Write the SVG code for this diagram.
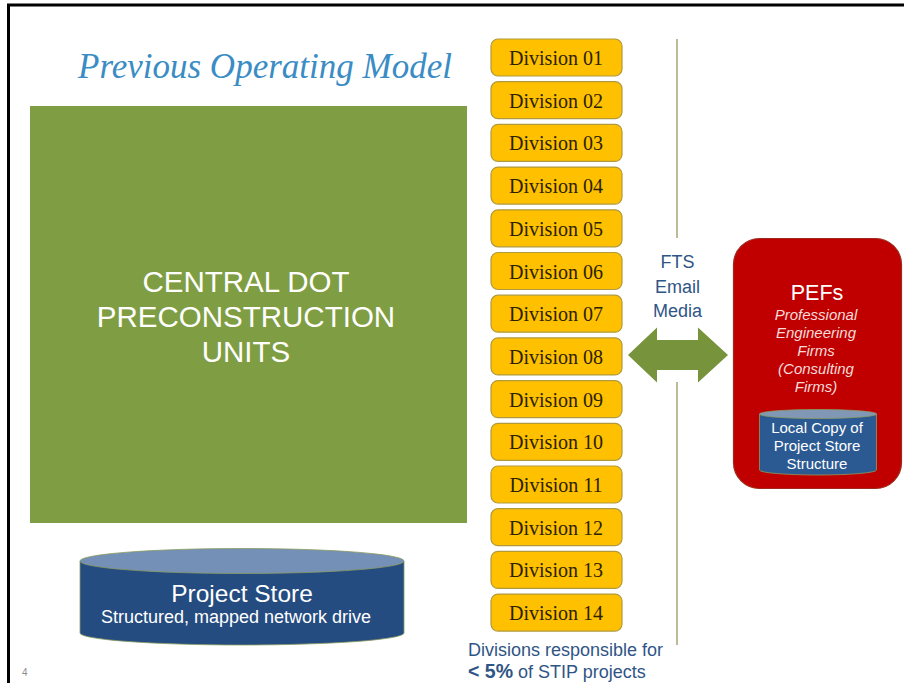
<svg xmlns="http://www.w3.org/2000/svg" width="904" height="683" viewBox="0 0 904 683">
<style>
.div rect{fill:#FFC000;stroke:#B09A3A;stroke-width:1.2}
.div text{font-family:"Liberation Serif","Times New Roman",serif;font-size:20px;fill:#2A2200;text-anchor:middle}
.sans{font-family:"Liberation Sans",Arial,sans-serif}
.blue{fill:#2F5586}
</style>
<rect x="0" y="0" width="904" height="683" fill="#FFFFFF"/>
<path d="M8.5,683 V5 H904" fill="none" stroke="#000" stroke-width="3"/>
<text x="78" y="78" font-family="Liberation Serif,'Times New Roman',serif" font-style="italic" font-size="35" fill="#3A8CC4">Previous Operating Model</text>

<g id="central">
<rect x="30" y="106" width="437" height="417" fill="#7F9D42"/>
<text class="sans" x="246" y="292" font-size="29.5" fill="#FFFFFF" text-anchor="middle">CENTRAL DOT</text>
<text class="sans" x="246" y="327" font-size="29.5" fill="#FFFFFF" text-anchor="middle">PRECONSTRUCTION</text>
<text class="sans" x="246" y="362" font-size="29.5" fill="#FFFFFF" text-anchor="middle">UNITS</text>
</g>

<g id="project-store">
<path d="M80,561 V633 A162,12 0 0 0 404,633 V561 Z" fill="#244C80" stroke="#8A9A60" stroke-width="0.8"/>
<ellipse cx="242" cy="561" rx="162" ry="12.5" fill="#7490B6" stroke="#8A9A60" stroke-width="0.8"/>
<text class="sans" x="242" y="602" font-size="24.5" fill="#FFFFFF" text-anchor="middle">Project Store</text>
<text class="sans" x="236" y="623" font-size="18" fill="#FFFFFF" text-anchor="middle">Structured, mapped network drive</text>
</g>

<g id="divisions">
<g id="div01" class="div"><rect x="491" y="39" width="131" height="37" rx="7"/><text x="556" y="65">Division 01</text></g>
<g id="div02" class="div"><rect x="491" y="81.7" width="131" height="37" rx="7"/><text x="556" y="107.7">Division 02</text></g>
<g id="div03" class="div"><rect x="491" y="124.4" width="131" height="37" rx="7"/><text x="556" y="150.4">Division 03</text></g>
<g id="div04" class="div"><rect x="491" y="167.1" width="131" height="37" rx="7"/><text x="556" y="193.1">Division 04</text></g>
<g id="div05" class="div"><rect x="491" y="209.8" width="131" height="37" rx="7"/><text x="556" y="235.8">Division 05</text></g>
<g id="div06" class="div"><rect x="491" y="252.5" width="131" height="37" rx="7"/><text x="556" y="278.5">Division 06</text></g>
<g id="div07" class="div"><rect x="491" y="295.2" width="131" height="37" rx="7"/><text x="556" y="321.2">Division 07</text></g>
<g id="div08" class="div"><rect x="491" y="337.9" width="131" height="37" rx="7"/><text x="556" y="363.9">Division 08</text></g>
<g id="div09" class="div"><rect x="491" y="380.6" width="131" height="37" rx="7"/><text x="556" y="406.6">Division 09</text></g>
<g id="div10" class="div"><rect x="491" y="423.3" width="131" height="37" rx="7"/><text x="556" y="449.3">Division 10</text></g>
<g id="div11" class="div"><rect x="491" y="466" width="131" height="37" rx="7"/><text x="556" y="492">Division 11</text></g>
<g id="div12" class="div"><rect x="491" y="508.7" width="131" height="37" rx="7"/><text x="556" y="534.7">Division 12</text></g>
<g id="div13" class="div"><rect x="491" y="551.4" width="131" height="37" rx="7"/><text x="556" y="577.4">Division 13</text></g>
<g id="div14" class="div"><rect x="491" y="594.1" width="131" height="37" rx="7"/><text x="556" y="620.1">Division 14</text></g>
</g>

<g id="divisions-note" class="sans blue">
<text x="468" y="656" font-size="18">Divisions responsible for</text>
<text x="468" y="678" font-size="18"><tspan font-weight="bold" font-size="19.5">&lt; 5%</tspan> of STIP projects</text>
</g>

<line x1="677" y1="39" x2="677" y2="238" stroke="#A8A274" stroke-width="1.5"/>
<line x1="677" y1="382" x2="677" y2="645" stroke="#A8A274" stroke-width="1.5"/>

<g id="connectors">
<path id="exchange-arrow" d="M628,355 L657,327.5 V340 H698 V327.5 L728,355 L698,382.5 V370 H657 V382.5 Z" fill="#77933C"/>
<g class="sans blue" font-size="18" text-anchor="middle">
<text x="677.5" y="268">FTS</text>
<text x="677.5" y="292.5">Email</text>
<text x="677.5" y="317">Media</text>
</g>
</g>

<g id="pefs">
<rect x="733.5" y="238.5" width="168" height="250" rx="26" fill="#C00000" stroke="#9E2A1E" stroke-width="1.2"/>
<text class="sans" x="817" y="300" font-size="21.5" fill="#FFFFFF" text-anchor="middle">PEFs</text>
<g class="sans" font-size="15" font-style="italic" fill="#F5DCDA" text-anchor="middle">
<text x="816" y="320">Professional</text>
<text x="816" y="338">Engineering</text>
<text x="816" y="356">Firms</text>
<text x="816" y="374">(Consulting</text>
<text x="816" y="392">Firms)</text>
</g>
<g id="local-copy">
<path d="M759.5,414 V470 A58.5,5 0 0 0 876.5,470 V414 Z" fill="#2B5A92" stroke="#8A9A60" stroke-width="0.8"/>
<ellipse cx="818" cy="414" rx="58.5" ry="4.5" fill="#8197B6" stroke="#8A9A60" stroke-width="0.8"/>
<g class="sans" font-size="15" fill="#FFFFFF" text-anchor="middle">
<text x="817" y="433">Local Copy of</text>
<text x="817" y="451">Project Store</text>
<text x="817" y="468.5">Structure</text>
</g>
</g>
</g>

<text class="sans" x="22" y="676" font-size="10" fill="#8C8C8C">4</text>
</svg>
